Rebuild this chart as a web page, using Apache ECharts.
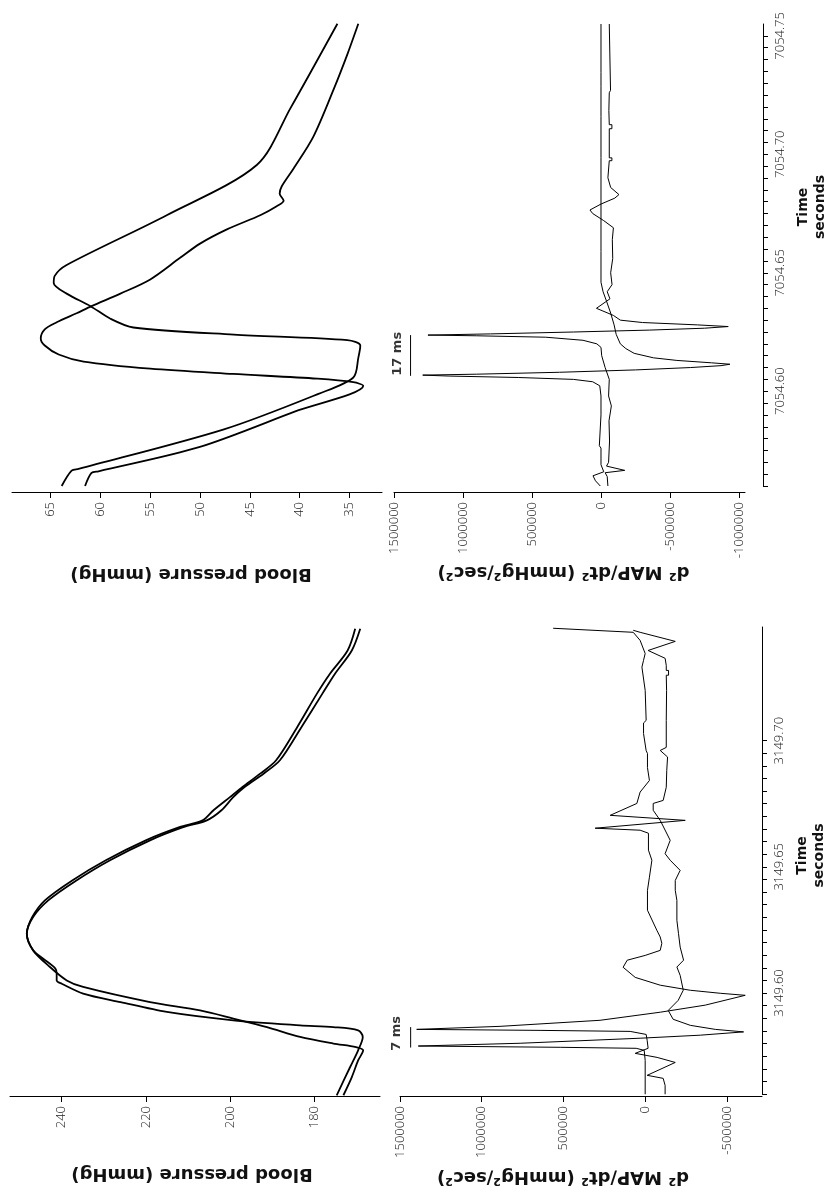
<!DOCTYPE html>
<html><head><meta charset="utf-8">
<script src="https://cdn.jsdelivr.net/npm/echarts@6/dist/echarts.min.js"></script>
<style>html,body{margin:0;padding:0;background:#fff}#c{width:827px;height:1197px}</style>
</head><body><div id="c"></div><script>
// ---------- axis ranges & tick labels ----------
const timeTopRange = [7054.56, 7054.755];
const timeBotRange = [3149.56, 3149.745];
const timeTopLabels = [7054.60, 7054.65, 7054.70, 7054.75];
const timeBotLabels = [3149.60, 3149.65, 3149.70];
const bpTopRange = [31.72, 68.89];
const bpBotRange = [164.3, 252.3];
const d2TopRange = [-1043500, 1500000];
const d2BotRange = [-714700, 1500000];
const bpTopTicks = [35, 40, 45, 50, 55, 60, 65];
const bpBotTicks = [180, 200, 220, 240];
const d2TopTicks = [-1000000, -500000, 0, 500000, 1000000, 1500000];
const d2BotTicks = [-500000, 0, 500000, 1000000, 1500000];

// ---------- data: [time (s), value] ----------
const bpTopA = [[7054.560,63.9],[7054.5665,62.9],[7054.5672,62.2],[7054.5839,47.6],[7054.5989,38.1],[7054.6058,34.6],[7054.6141,34.1],[7054.6193,33.9],[7054.6216,35.2],[7054.6239,46.6],[7054.6269,56.7],[7054.6306,59.0],[7054.6359,61.0],[7054.6412,63.4],[7054.6457,64.7],[7054.6487,64.6],[7054.6533,63.4],[7054.6744,53.3],[7054.6955,44.3],[7054.7196,40.9],[7054.7551,36.2]];
const bpTopB = [[7054.560,61.55],[7054.5655,60.9],[7054.5662,60.2],[7054.5764,50.1],[7054.5914,40.5],[7054.6023,33.6],[7054.6038,34.6],[7054.6053,38.2],[7054.6073,46.7],[7054.6095,55.0],[7054.6125,61.7],[7054.6155,64.2],[7054.6193,65.6],[7054.6223,66.0],[7054.6261,65.6],[7054.6291,64.4],[7054.6329,62.4],[7054.6359,60.9],[7054.6412,58.0],[7054.6472,55.0],[7054.6563,52.0],[7054.6623,50.0],[7054.6683,47.3],[7054.6744,43.9],[7054.6781,42.3],[7054.6804,41.6],[7054.6834,42.0],[7054.6864,41.8],[7054.6940,40.6],[7054.7076,38.6],[7054.7272,36.6],[7054.7422,35.2],[7054.7551,34.1]];
const d2TopA = [[7054.5600,5000],[7054.5622,40000],[7054.5643,58000],[7054.5660,-20000],[7054.5690,0],[7054.5760,0],[7054.5760,12000],[7054.5770,12000],[7054.5770,0],[7054.5900,0],[7054.5980,0],[7054.6023,9000],[7054.6040,60000],[7054.6050,200000],[7054.6058,600000],[7054.6064,1100000],[7054.6068,1292000],[7054.6072,900000],[7054.6080,300000],[7054.6090,-250000],[7054.6100,-650000],[7054.6108,-870000],[7054.6114,-934000],[7054.6120,-800000],[7054.6130,-550000],[7054.6141,-380000],[7054.6160,-240000],[7054.6180,-180000],[7054.6200,-140000],[7054.6240,-110000],[7054.6280,-95000],[7054.6330,-70000],[7054.6380,-40000],[7054.6420,-15000],[7054.6460,0],[7054.6590,0],[7054.6590,14000],[7054.6598,14000],[7054.6598,0],[7054.6986,0],[7054.6986,14000],[7054.6994,14000],[7054.6994,0],[7054.7160,0],[7054.7160,14000],[7054.7168,14000],[7054.7168,0],[7054.7285,0],[7054.7285,14000],[7054.7293,14000],[7054.7293,0],[7054.7346,0],[7054.7346,14000],[7054.7354,14000],[7054.7354,0],[7054.7550,0]];
const d2TopB = [[7054.5600,-50000],[7054.5640,-45000],[7054.5656,-30000],[7054.5666,-172000],[7054.5684,-40000],[7054.5700,-55000],[7054.5790,-62000],[7054.5875,-58000],[7054.5938,-75000],[7054.5980,-55000],[7054.6050,-60000],[7054.6100,-30000],[7054.6150,-5000],[7054.6185,0],[7054.6200,30000],[7054.6215,130000],[7054.6228,400000],[7054.6234,900000],[7054.6237,1254000],[7054.6242,800000],[7054.6250,200000],[7054.6258,-350000],[7054.6266,-750000],[7054.6273,-922000],[7054.6280,-700000],[7054.6290,-300000],[7054.6300,-140000],[7054.6320,-90000],[7054.6350,33000],[7054.6390,-65000],[7054.6420,-45000],[7054.6450,-80000],[7054.6500,-70000],[7054.6560,-85000],[7054.6640,-82000],[7054.6690,-90000],[7054.6720,-20000],[7054.6750,60000],[7054.6765,80000],[7054.6790,0],[7054.6815,-100000],[7054.6830,-130000],[7054.6860,-70000],[7054.6901,-50000],[7054.6973,-60000],[7054.6973,-79000],[7054.6985,-79000],[7054.6985,-60000],[7054.7108,-60000],[7054.7108,-79000],[7054.7125,-79000],[7054.7125,-60000],[7054.7184,-57000],[7054.7260,-60000],[7054.7260,-69000],[7054.7270,-69000],[7054.7270,-60000],[7054.7550,-60000]];
const bpBotA = [[3149.5595,173.0],[3149.5667,171.0],[3149.5733,169.5],[3149.5773,168.3],[3149.5786,170.0],[3149.5800,175.4],[3149.5826,183.3],[3149.5865,191.2],[3149.5899,199.2],[3149.5931,207.1],[3149.5964,219.0],[3149.6024,234.9],[3149.6050,238.8],[3149.6103,242.8],[3149.6169,246.8],[3149.6235,248.3],[3149.6301,246.8],[3149.6367,243.2],[3149.6446,236.5],[3149.6526,228.5],[3149.6605,219.0],[3149.6657,211.1],[3149.6684,205.5],[3149.6724,202.0],[3149.6776,199.2],[3149.6816,196.5],[3149.6869,192.0],[3149.6922,188.1],[3149.7053,183.0],[3149.7186,178.0],[3149.7265,175.0],[3149.7357,171.0],[3149.7443,169.0]];
const bpBotB = [[3149.5595,174.6],[3149.5707,171.4],[3149.5773,169.5],[3149.5826,168.4],[3149.5852,169.5],[3149.5865,175.4],[3149.5872,183.3],[3149.5892,199.2],[3149.5925,215.0],[3149.5964,226.0],[3149.5998,234.9],[3149.6037,240.0],[3149.6050,241.2],[3149.6077,241.2],[3149.6097,241.5],[3149.6136,244.4],[3149.6169,246.8],[3149.6235,248.3],[3149.6301,247.0],[3149.6367,244.0],[3149.6446,237.5],[3149.6526,229.5],[3149.6605,220.0],[3149.6657,212.0],[3149.6684,206.5],[3149.6724,203.9],[3149.6776,200.0],[3149.6816,197.0],[3149.6869,192.8],[3149.6922,189.0],[3149.7053,184.0],[3149.7186,179.3],[3149.7265,176.2],[3149.7357,172.0],[3149.7443,170.2]];
const d2BotA = [[3149.5599,0],[3149.5733,0],[3149.5773,6000],[3149.5781,55000],[3149.5785,520000],[3149.5790,1388000],[3149.5801,765000],[3149.5821,31000],[3149.5833,-337000],[3149.5846,-602000],[3149.5856,-429000],[3149.5872,-276000],[3149.5896,-171000],[3149.5931,-141000],[3149.5971,-202000],[3149.6011,-233000],[3149.6070,-214000],[3149.6103,-194000],[3149.6130,-235000],[3149.6182,-214000],[3149.6235,-204000],[3149.6288,-194000],[3149.6367,-194000],[3149.6407,-184000],[3149.6446,-184000],[3149.6486,-214000],[3149.6526,-153000],[3149.6552,-122000],[3149.6605,-153000],[3149.6684,-92000],[3149.6724,-49000],[3149.6751,-49000],[3149.6763,-110000],[3149.6815,-129000],[3149.6882,-132000],[3149.6935,-137000],[3149.6961,-92000],[3149.6973,-129000],[3149.7080,-129000],[3149.7199,-131000],[3149.7259,-129000],[3149.7259,-143000],[3149.7278,-143000],[3149.7278,-129000],[3149.7298,-129000],[3149.7326,-122000],[3149.7357,-18000],[3149.7393,-184000],[3149.7429,31000],[3149.7437,73000]];
const d2BotB = [[3149.5599,-122000],[3149.5634,-122000],[3149.5662,-110000],[3149.5674,-12000],[3149.5725,-184000],[3149.5745,-73000],[3149.5761,61000],[3149.5781,-18000],[3149.5813,-12000],[3149.5836,-6000],[3149.5848,92000],[3149.5852,643000],[3149.5856,1398000],[3149.5868,888000],[3149.5892,276000],[3149.5924,-92000],[3149.5952,-367000],[3149.5991,-612000],[3149.5999,-459000],[3149.6011,-276000],[3149.6031,-92000],[3149.6062,61000],[3149.6102,135000],[3149.6130,110000],[3149.6149,0],[3149.6169,-92000],[3149.6197,-102000],[3149.6222,-92000],[3149.6249,-71000],[3149.6328,-14000],[3149.6407,-14000],[3149.6459,-26000],[3149.6526,-41000],[3149.6566,-20000],[3149.6633,-20000],[3149.6645,31000],[3149.6653,306000],[3149.6684,-245000],[3149.6704,214000],[3149.6751,51000],[3149.6796,31000],[3149.6842,-26000],[3149.6893,-14000],[3149.6949,-14000],[3149.6960,-6000],[3149.7028,10000],[3149.7070,10000],[3149.7080,-6000],[3149.7199,0],[3149.7291,20000],[3149.7318,10000],[3149.7345,0],[3149.7397,31000],[3149.7429,73000],[3149.7445,563000]];

// scale bars: [value, timeStart, timeEnd], labels: [value, time, text]
const barTop = [1380000, 7054.6065, 7054.6237];
const barBot = [1434900, 3149.5784, 3149.5865];
const barTopLabel = [1474000, 7054.6158, '17 ms'];
const barBotLabel = [1518000, 3149.5840, '7 ms'];

// ---------- build ----------
function stepTicks(lo, hi, step) {
  const out = [];
  for (let k = 0; lo + k * step <= hi + 1e-9; k++) out.push(+(lo + k * step).toFixed(3));
  return out;
}
const tickFont = {fontFamily: '"Open Sans", "DejaVu Sans", sans-serif', fontWeight: 300, fontSize: 13, color: '#222'};
const titleFont = {fontFamily: '"DejaVu Sans", sans-serif', fontWeight: 'bold', color: '#111'};
const blackLine = {lineStyle: {color: '#000', width: 1}};

function valAxis(grid, range, ticks, offset, name, gap, pad, fs) {
  return {
    type: 'value', gridIndex: grid, inverse: true, min: range[0], max: range[1],
    position: 'bottom', offset: offset, splitLine: {show: false},
    axisLine: {show: true, onZero: false, ...blackLine},
    axisTick: {show: true, length: 6, customValues: ticks, ...blackLine},
    axisLabel: Object.assign({rotate: 90, margin: 10, customValues: ticks, formatter: v => String(Math.round(v))}, tickFont),
    name: name, nameLocation: 'middle', nameGap: gap, nameRotate: 180, nameMoveOverlap: false,
    nameTextStyle: Object.assign({fontSize: fs, padding: [0, 0, 0, pad]}, titleFont)
  };
}
function timeAxis(grid, range, labels, offset, show, pad) {
  return {
    type: 'value', gridIndex: grid, min: range[0], max: range[1], show: show,
    position: 'right', offset: offset, splitLine: {show: false},
    axisLine: {show: true, onZero: false, ...blackLine},
    axisTick: {show: true, length: 5, customValues: stepTicks(range[0], labels[labels.length - 1], 0.005), ...blackLine},
    axisLabel: Object.assign({rotate: 90, margin: 11, customValues: labels, formatter: v => v.toFixed(2)}, tickFont),
    name: 'Time\nseconds', nameLocation: 'middle', nameGap: 32, nameRotate: 90, nameMoveOverlap: false,
    nameTextStyle: Object.assign({fontSize: 14, lineHeight: 17, padding: [0, 0, 0, pad]}, titleFont)
  };
}
function curve(data, xi, w, smooth) {
  return {type: 'line', xAxisIndex: xi, yAxisIndex: xi, symbol: 'none', smooth: smooth, clip: false,
    lineStyle: {color: '#000', width: w}, data: data.map(p => [p[1], p[0]]), silent: true};
}
function bar(b, xi) {
  return {type: 'line', xAxisIndex: xi, yAxisIndex: xi, symbol: 'none', clip: false,
    lineStyle: {color: '#000', width: 1}, data: [[b[0], b[1]], [b[0], b[2]]], silent: true};
}
function barLabel(l, xi) {
  return {type: 'scatter', xAxisIndex: xi, yAxisIndex: xi, symbolSize: 1, clip: false, silent: true,
    itemStyle: {color: 'rgba(0,0,0,0)'}, data: [[l[0], l[1]]],
    label: Object.assign({show: true, position: 'inside', rotate: 90, formatter: l[2], fontSize: 13}, titleFont, {color: '#000'})};
}

const option = {
  animation: false,
  backgroundColor: '#fff',
  grid: [
    {left: 12, top: 24, width: 370, height: 462, containLabel: false, outerBoundsMode: 'none'},
    {left: 394, top: 24, width: 351, height: 462, containLabel: false, outerBoundsMode: 'none'},
    {left: 10, top: 627, width: 370, height: 467, containLabel: false, outerBoundsMode: 'none'},
    {left: 400, top: 627, width: 362, height: 467, containLabel: false, outerBoundsMode: 'none'}
  ],
  xAxis: [
    valAxis(0, bpTopRange, bpTopTicks, 6, 'Blood pressure (mmHg)', 73, 12, 18),
    valAxis(1, d2TopRange, d2TopTicks, 6, 'd² MAP/dt² (mmHg²/sec²)', 71, 12, 18),
    valAxis(2, bpBotRange, bpBotTicks, 2, 'Blood pressure (mmHg)', 69, 6, 18),
    valAxis(3, d2BotRange, d2BotTicks, 2, 'd² MAP/dt² (mmHg²/sec²)', 72, 36, 18)
  ],
  yAxis: [
    timeAxis(0, timeTopRange, timeTopLabels, 0, false, 0),
    timeAxis(1, timeTopRange, timeTopLabels, 18, true, 96),
    timeAxis(2, timeBotRange, timeBotLabels, 0, false, 0),
    timeAxis(3, timeBotRange, timeBotLabels, 0, true, 10)
  ],
  series: [
    curve(bpTopA, 0, 1.8, 0.3), curve(bpTopB, 0, 1.8, 0.3),
    curve(d2TopA, 1, 1, false), curve(d2TopB, 1, 1, false),
    curve(bpBotA, 2, 1.8, 0.3), curve(bpBotB, 2, 1.8, 0.3),
    curve(d2BotA, 3, 1, false), curve(d2BotB, 3, 1, false),
    bar(barTop, 1), bar(barBot, 3), barLabel(barTopLabel, 1), barLabel(barBotLabel, 3)
  ]
};
const chart = echarts.init(document.getElementById('c'), null, {renderer: 'canvas'});
chart.setOption(option);
</script></body></html>
